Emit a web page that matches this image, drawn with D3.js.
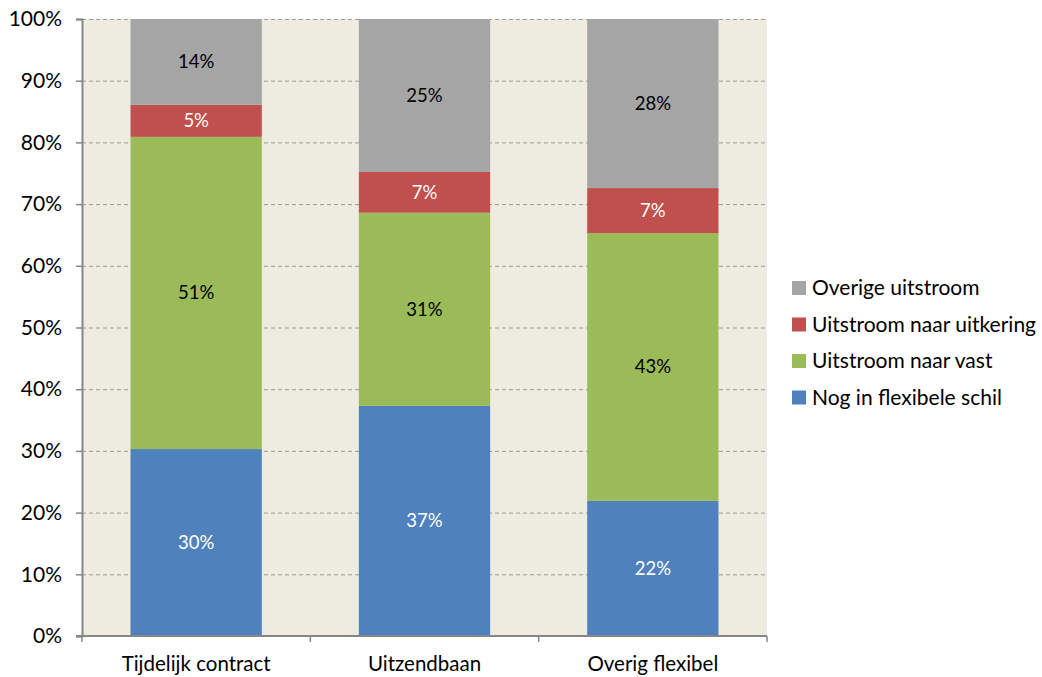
<!DOCTYPE html>
<html><head><meta charset="utf-8">
<script src="https://cdn.jsdelivr.net/npm/d3@7"></script>
<style>body{margin:0;background:#fff}svg{display:block}text{font-family:Lato,"Open Sans",sans-serif}</style>
</head><body><svg id="c" width="1042" height="677"></svg>
<script>
const categories = ["Tijdelijk contract", "Uitzendbaan", "Overig flexibel"];
const seriesNames = ["Nog in flexibele schil", "Uitstroom naar vast", "Uitstroom naar uitkering", "Overige uitstroom"];
const flexibel = [30.3, 37.3, 21.9];
const vast = [50.6, 31.3, 43.4];
const uitkering = [5.2, 6.6, 7.3];
const overige = [13.9, 24.8, 27.4];
const labels = [["30%","37%","22%"],["51%","31%","43%"],["5%","7%","7%"],["14%","25%","28%"]];
const colors = ["#4F81BD", "#9BBB59", "#C0504D", "#A5A5A5"];
const labelColors = ["#fff", "#000", "#fff", "#000"];
const yTicks = [0,10,20,30,40,50,60,70,80,90,100];

const svg = d3.select("#c");
const m = {l:82, r:767, t:19, b:636};
const x = d3.scaleBand().domain(categories).range([m.l, m.r]).paddingInner(0.425).paddingOuter(0.2125);
const y = d3.scaleLinear().domain([0,100]).range([m.b, m.t]);

svg.append("rect").attr("x", m.l).attr("y", m.t).attr("width", m.r-m.l).attr("height", m.b-m.t).attr("fill", "#EEEBE0");

svg.append("g").selectAll("line").data(yTicks.slice(1)).join("line")
  .attr("x1", m.l).attr("x2", m.r).attr("y1", d=>y(d)+0.5).attr("y2", d=>y(d)+0.5)
  .attr("stroke", "#9a9a9a").attr("stroke-dasharray", "4,3").attr("stroke-width", 1);

const data = categories.map((c,i)=>({cat:c, s0:flexibel[i], s1:vast[i], s2:uitkering[i], s3:overige[i]}));
const stack = d3.stack().keys(["s0","s1","s2","s3"])(data);

stack.forEach((layer, li) => {
  const g = svg.append("g");
  g.selectAll("rect").data(layer).join("rect")
    .attr("x", d=>x(d.data.cat)).attr("width", x.bandwidth())
    .attr("y", d=>y(d[1])).attr("height", d=>y(d[0])-y(d[1]))
    .attr("fill", colors[li]);
  g.selectAll("text").data(layer).join("text")
    .attr("x", d=>x(d.data.cat)+x.bandwidth()/2).attr("y", d=>(y(d[0])+y(d[1]))/2)
    .attr("dy", "0.35em").attr("text-anchor", "middle").attr("font-size", 18.5)
    .attr("fill", labelColors[li]).text((d,i)=>labels[li][i]);
});

// axes
const yAxis = svg.append("g").attr("transform", `translate(${m.l},0)`)
  .call(d3.axisLeft(y).tickValues(yTicks).tickFormat(d=>d+"%").tickSize(6).tickPadding(14));
yAxis.select(".domain").attr("stroke", "#868686").attr("stroke-width", 2);
yAxis.selectAll(".tick line").attr("stroke", "#868686").attr("stroke-width", 1.5);
yAxis.selectAll("text").attr("font-size", 21).attr("fill", "#000").style("font-family", "Lato");

const xAxis = svg.append("g").attr("transform", `translate(0,${m.b})`)
  .call(d3.axisBottom(x).tickSize(0).tickPadding(20));
xAxis.select(".domain").remove();
xAxis.selectAll("text").attr("font-size", 20.5).attr("fill", "#000").style("font-family", "Lato");
svg.append("line").attr("x1", m.l-6).attr("x2", m.r).attr("y1", m.b).attr("y2", m.b).attr("stroke", "#868686").attr("stroke-width", 2);
const bounds = [m.l, m.l+x.step(), m.l+2*x.step(), m.r];
svg.append("g").selectAll("line").data(bounds).join("line")
  .attr("x1", d=>d).attr("x2", d=>d).attr("y1", m.b).attr("y2", m.b+6)
  .attr("stroke", "#868686").attr("stroke-width", 1.5);

// legend
const legOrder = [3,2,1,0];
const lg = svg.append("g").attr("transform", "translate(792,288)");
legOrder.forEach((si, k) => {
  const row = lg.append("g").attr("transform", `translate(0,${k*36.5})`);
  row.append("rect").attr("x", 0).attr("y", -7).attr("width", 14).attr("height", 14).attr("fill", colors[si]);
  row.append("text").attr("x", 20).attr("y", 0).attr("dy", "0.35em").attr("font-size", 21).attr("fill", "#000").text(seriesNames[si]);
});
</script></body></html>
